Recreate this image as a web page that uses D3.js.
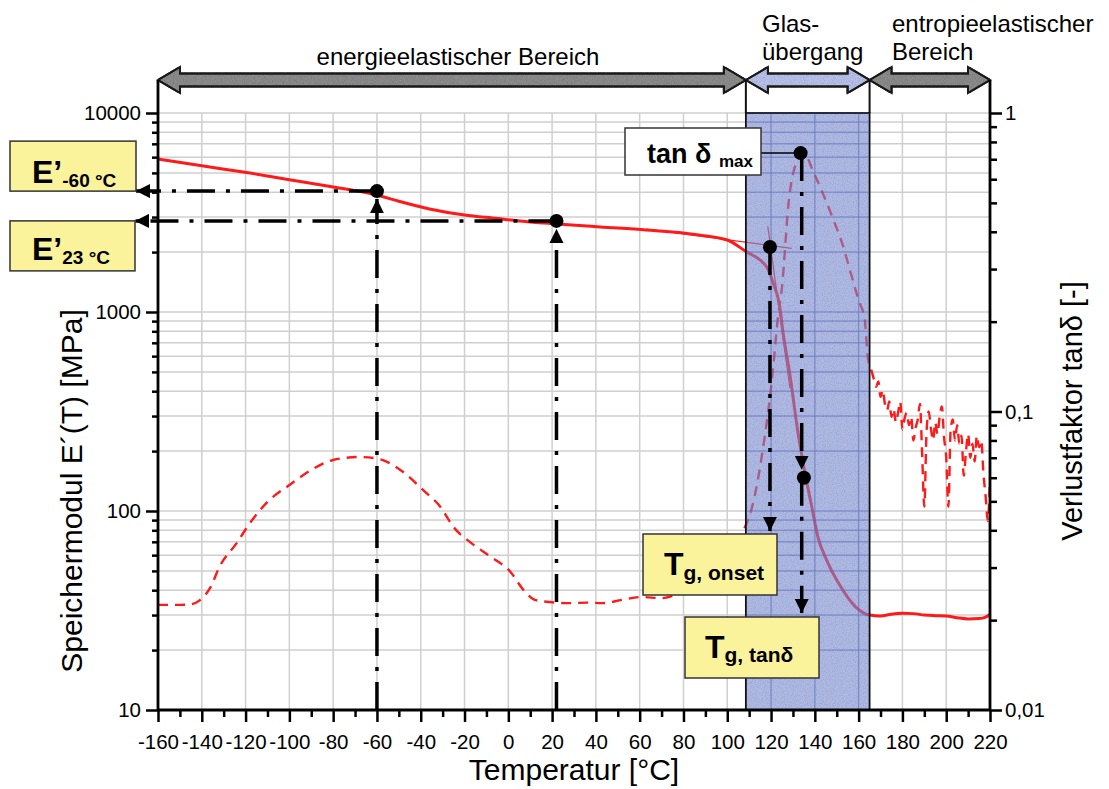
<!DOCTYPE html>
<html>
<head>
<meta charset="utf-8">
<script src="https://cdn.jsdelivr.net/npm/d3@7"></script>
<style>
  body { margin: 0; background: #fff; }
  text { font-family: "Liberation Sans", Arial, sans-serif; }
</style>
</head>
<body>
<svg id="chart" width="1109" height="789"></svg>
<script>
// DMA curve: storage modulus E' and loss factor tan delta over temperature

const width = 1109;
const height = 789;
const margin = {left: 158, right: 119, top: 113, bottom: 79};

// storage modulus E'(T) [MPa], left axis
const tempE = [-160, -140, -118, -100, -80, -69, -60, -50, -36, -20, -5, 4, 22, 42, 63, 87, 100, 109, 115, 118,
  121, 124, 125.5, 128.5, 132.3, 135.5, 138.6, 141.4, 145.3, 151.9, 158.6, 165, 170, 175, 180, 185, 190, 195,
  200, 205, 210, 215, 218, 220];
const modulusE = [5875, 5430, 4990, 4620, 4250, 4055, 3870, 3600, 3295, 3072, 2950, 2875, 2770, 2675, 2585, 2440, 2300, 2000, 1825, 1683,
  1400, 1060, 784, 494, 247, 155, 105, 74, 57, 41.5, 33, 30, 29.7, 30.3, 30.6, 30.5, 30, 29.8,
  29.7, 29.1, 28.7, 28.8, 29.3, 30.3];

// loss factor tan delta [-], right axis
const tempTan = [-160, -150, -145, -141, -136, -132, -124, -118, -110, -100, -90, -80, -68, -59, -48, -39, -31, -25, -17, -8,
  1, 7, 12, 19, 28, 36, 43, 52, 61, 70, 78, 90, 100, 104, 107, 111, 116, 121, 123, 125,
  128, 132, 134, 136, 139, 143, 148, 153, 156, 160, 162.8, 164.2, 166,
  167, 168, 169, 170, 171, 172, 173, 174, 175, 176, 177, 178, 179, 180, 181, 182, 183, 184, 185, 186,
  187, 188, 189, 190, 191, 192, 193, 194, 195, 196, 197, 198, 199, 200, 201, 202, 203, 204, 205, 206,
  207, 208, 209, 210, 211, 212, 213, 214, 215, 216, 217, 218, 219, 220];
const tanDelta = [0.0225, 0.0225, 0.0226, 0.0233, 0.0258, 0.0301, 0.0363, 0.0423, 0.0498, 0.0567, 0.0637, 0.0688, 0.0704, 0.0693, 0.0627, 0.0546, 0.0479, 0.0410, 0.0363, 0.0326,
  0.0290, 0.0252, 0.0234, 0.0230, 0.0228, 0.0229, 0.0228, 0.0234, 0.0239, 0.0237, 0.0245, 0.0255, 0.0290, 0.0340, 0.0392, 0.0468, 0.0726, 0.141, 0.2025, 0.261,
  0.499, 0.696, 0.734, 0.72, 0.644, 0.552, 0.448, 0.356, 0.298, 0.236, 0.203, 0.152, 0.136,
  0.128, 0.121, 0.126, 0.112, 0.118, 0.106, 0.101, 0.108, 0.096, 0.102, 0.092, 0.099, 0.108, 0.087, 0.095, 0.099, 0.090, 0.096, 0.080, 0.088,
  0.094, 0.106, 0.072, 0.048, 0.085, 0.100, 0.088, 0.080, 0.092, 0.084, 0.096, 0.104, 0.082, 0.070, 0.048, 0.086, 0.094, 0.080, 0.090, 0.078,
  0.083, 0.061, 0.073, 0.084, 0.070, 0.078, 0.068, 0.083, 0.076, 0.080, 0.062, 0.052, 0.043, 0.060];

// tangents used for the onset construction
const tangent1T = [63, 129.4];
const tangent1E = [2612, 2090];
const tangent2T = [118.5, 128.6];
const tangent2E = [2704, 415];

// characteristic points
const pE60 = {t: -60, e: 4050};
const pE23 = {t: 22, e: 2870};
const pOnset = {t: 119.5, e: 2123};
const pTanMax = {t: 133.5, tan: 0.734};
const pTgTan = {t: 135, e: 147};

// regions (temperature limits)
const regions = [
  {from: -160, to: 108.5, fill: "#8c8c8c"},
  {from: 108.5, to: 165, fill: "#b8c2ea"},
  {from: 165, to: 220, fill: "#8c8c8c"}
];

const xTicks = d3.range(-160, 221, 20);
const xMinor = d3.range(-150, 220, 20);
const yLTicks = [10, 100, 1000, 10000];
const yRTicks = [0.01, 0.1, 1];
const yRLabels = ["0,01", "0,1", "1"];

const svg = d3.select("#chart");

const x = d3.scaleLinear().domain([-160, 220]).range([margin.left, width - margin.right]);
const yL = d3.scaleLog().domain([10, 10000]).range([height - margin.bottom, margin.top]);
const yR = d3.scaleLog().domain([0.01, 1]).range([height - margin.bottom, margin.top]);

const x0 = margin.left, x1 = width - margin.right;
const y0 = height - margin.bottom, y1 = margin.top;
const arrowY = y1 - 33;

// minor log values
const minorL = [];
[10, 100, 1000].forEach(k => d3.range(2, 10).forEach(m => minorL.push(m * k)));
const minorR = [];
[0.01, 0.1].forEach(k => d3.range(2, 10).forEach(m => minorR.push(+(m * k).toFixed(3))));

// speckle texture for the band and the arrows
const defs = svg.append("defs");
const noise = defs.append("filter").attr("id", "noise").attr("x", 0).attr("y", 0).attr("width", 1).attr("height", 1);
noise.append("feTurbulence").attr("type", "fractalNoise").attr("baseFrequency", 0.9).attr("numOctaves", 2).attr("result", "n");
noise.append("feColorMatrix").attr("in", "n").attr("type", "matrix")
  .attr("values", "0 0 0 0 0  0 0 0 0 0  0 0 0 0 0  0 0 0 -0.7 0.42").attr("result", "a");
noise.append("feComposite").attr("in", "a").attr("in2", "SourceGraphic").attr("operator", "in").attr("result", "s");
const merge = noise.append("feMerge");
merge.append("feMergeNode").attr("in", "SourceGraphic");
merge.append("feMergeNode").attr("in", "s");

/* grid */
const grid = svg.append("g").attr("stroke", "#cfcfcf").attr("stroke-width", 1.5);
grid.selectAll(".gh").data(minorL.concat(yLTicks)).join("line")
  .attr("x1", x0).attr("x2", x1)
  .attr("y1", d => yL(d)).attr("y2", d => yL(d));
grid.selectAll(".gv").data(xTicks.slice(1, -1)).join("line")
  .attr("x1", d => x(d)).attr("x2", d => x(d))
  .attr("y1", y0).attr("y2", y1);

/* curves */
const lineE = d3.line().x(d => x(d.t)).y(d => yL(d.v)).curve(d3.curveMonotoneX);
const lineT = d3.line().x(d => x(d.t)).y(d => yR(d.v)).curve(d3.curveMonotoneX);
const eData = tempE.map((t, i) => ({t: t, v: modulusE[i]}));
const tData = tempTan.map((t, i) => ({t: t, v: tanDelta[i]}));

svg.append("path").datum(tData)
  .attr("d", lineT).attr("fill", "none")
  .attr("stroke", "#ff1a1a").attr("stroke-width", 2.4)
  .attr("stroke-dasharray", "10,7");

svg.append("path").datum(eData)
  .attr("d", lineE).attr("fill", "none")
  .attr("stroke", "#ff1a1a").attr("stroke-width", 3);

[[tangent1T, tangent1E], [tangent2T, tangent2E]].forEach(tg => {
  svg.append("line")
    .attr("x1", x(tg[0][0])).attr("y1", yL(tg[1][0]))
    .attr("x2", x(tg[0][1])).attr("y2", yL(tg[1][1]))
    .attr("stroke", "#ff1a1a").attr("stroke-width", 1.2);
});

/* glass transition band */
const band = regions[1];
svg.append("rect")
  .attr("x", x(band.from)).attr("y", y1)
  .attr("width", x(band.to) - x(band.from)).attr("height", y0 - y1)
  .attr("fill", "#7a8cd4").attr("fill-opacity", 0.6)
  .attr("filter", "url(#noise)");
svg.append("rect")
  .attr("x", x(band.from)).attr("y", y1)
  .attr("width", x(band.to) - x(band.from)).attr("height", y0 - y1)
  .attr("fill", "none")
  .attr("stroke", "#111").attr("stroke-width", 1.8);

const bandGrid = svg.append("g").attr("stroke", "#3f55c0").attr("stroke-opacity", 0.35).attr("stroke-width", 1);
bandGrid.selectAll("line.h").data(minorL.concat(yLTicks)).join("line").attr("class", "h")
  .attr("x1", x(band.from)).attr("x2", x(band.to))
  .attr("y1", d => yL(d)).attr("y2", d => yL(d));
bandGrid.selectAll("line.v").data(xTicks.filter(d => d > band.from && d < band.to)).join("line").attr("class", "v")
  .attr("x1", d => x(d)).attr("x2", d => x(d))
  .attr("y1", y0).attr("y2", y1);

/* region arrows on top */
function dblArrow(a, b, cy) {
  const hl = 22, hh = 13, sh = 6.5;
  return `M${a},${cy} L${a + hl},${cy - hh} L${a + hl},${cy - sh} L${b - hl},${cy - sh} L${b - hl},${cy - hh} L${b},${cy}` +
    ` L${b - hl},${cy + hh} L${b - hl},${cy + sh} L${a + hl},${cy + sh} L${a + hl},${cy + hh} Z`;
}
svg.selectAll(".region").data(regions).join("path")
  .attr("d", d => dblArrow(x(d.from), x(d.to), arrowY))
  .attr("fill", d => d.fill).attr("filter", "url(#noise)")
  .attr("stroke", "#1a1a1a").attr("stroke-width", 2)
  .attr("stroke-linejoin", "miter");
svg.selectAll(".regionEdge").data(regions).join("path")
  .attr("d", d => dblArrow(x(d.from), x(d.to), arrowY))
  .attr("fill", "none").attr("stroke", "#1a1a1a").attr("stroke-width", 2);

// vertical connectors from the plot to the arrows
svg.selectAll(".conn").data([band.from, band.to]).join("line")
  .attr("x1", d => x(d)).attr("x2", d => x(d))
  .attr("y1", arrowY).attr("y2", y1)
  .attr("stroke", "#111").attr("stroke-width", 2);

svg.append("text").attr("x", 458).attr("y", 65).attr("text-anchor", "middle")
  .attr("font-size", 24).text("energieelastischer Bereich");
svg.append("text").attr("x", 762).attr("y", 32).attr("font-size", 24).text("Glas-");
svg.append("text").attr("x", 762).attr("y", 60).attr("font-size", 24).text("übergang");
svg.append("text").attr("x", 892).attr("y", 32).attr("font-size", 24).text("entropieelastischer");
svg.append("text").attr("x", 892).attr("y", 60).attr("font-size", 24).text("Bereich");

/* construction lines */
defs.append("marker").attr("id", "arr")
  .attr("viewBox", "0 0 10 10").attr("refX", 10).attr("refY", 5)
  .attr("markerWidth", 4).attr("markerHeight", 4.2).attr("orient", "auto")
  .append("path").attr("d", "M0,0 L10,5 L0,10 z").attr("fill", "#000");

const dashDot = "28,11,4,11";
function guide(xa, ya, xb, yb, arrow) {
  svg.append("line")
    .attr("x1", xa).attr("y1", ya).attr("x2", xb).attr("y2", yb)
    .attr("stroke", "#000").attr("stroke-width", 3.5)
    .attr("stroke-dasharray", dashDot)
    .attr("marker-end", arrow ? "url(#arr)" : null);
}

// annotation boxes (layout)
const boxE60 = {x: 10, w: 126, h: 50};
const boxE23 = {x: 10, w: 125, h: 50};
const boxTan = {x: 625, y: 128, w: 136, h: 47};
const boxOnset = {x: 643, y: 534, w: 134, h: 61};
const boxTgTan = {x: 685, y: 617, w: 134, h: 61};

guide(x(pE60.t), yL(pE60.e), boxE60.x + boxE60.w, yL(pE60.e), true);
guide(x(pE23.t), yL(pE23.e), boxE23.x + boxE23.w, yL(pE23.e), true);
guide(x(pE60.t), y0, x(pE60.t), yL(pE60.e) + 8, true);
guide(x(pE23.t), y0, x(pE23.t), yL(pE23.e) + 8, true);
guide(x(pOnset.t), yL(pOnset.e), x(pOnset.t), boxOnset.y - 3, true);
guide(x(134), yR(pTanMax.tan), x(134), yL(pTgTan.e) - 8, true);
guide(x(134), yL(pTgTan.e), x(134), boxTgTan.y - 4, true);

svg.append("line")
  .attr("x1", boxTan.x + boxTan.w).attr("x2", x(pTanMax.t))
  .attr("y1", yR(pTanMax.tan)).attr("y2", yR(pTanMax.tan))
  .attr("stroke", "#000").attr("stroke-width", 1.5);

const dots = [
  [x(pE60.t), yL(pE60.e)], [x(pE23.t), yL(pE23.e)], [x(pOnset.t), yL(pOnset.e)],
  [x(pTanMax.t), yR(pTanMax.tan)], [x(pTgTan.t), yL(pTgTan.e)]
];
svg.selectAll(".dot").data(dots).join("circle")
  .attr("cx", d => d[0]).attr("cy", d => d[1]).attr("r", 7).attr("fill", "#000");

/* boxes */
function box(b, fill) {
  svg.append("rect").attr("x", b.x).attr("y", b.y).attr("width", b.w).attr("height", b.h)
    .attr("fill", fill).attr("stroke", "#333").attr("stroke-width", 1.5);
}
boxE60.y = yL(pE60.e) - boxE60.h;
boxE23.y = yL(pE23.e);
box(boxE60, "#fbf39c");
box(boxE23, "#fbf39c");
box(boxTan, "#fff");
box(boxOnset, "#fbf39c");
box(boxTgTan, "#fbf39c");

function label(px, py, main, sub, big, small, dy) {
  const t = svg.append("text").attr("x", px).attr("y", py).attr("font-weight", "bold")
    .attr("font-size", big);
  t.append("tspan").text(main);
  t.append("tspan").attr("font-size", small).attr("dy", dy).text(sub);
}
label(32, boxE60.y + 42, "E’", "-60 °C", 32, 19, 4);
label(32, boxE23.y + 39, "E’", "23 °C", 32, 19, 4);
label(647, 163, "tan δ ", "max", 27, 17, 4);
label(664, 575, "T", "g, onset", 32, 21, 5);
label(705, 658, "T", "g, tanδ", 32, 21, 4);

/* axes */
function styleAxis(g) {
  g.select(".domain").remove();
  g.selectAll(".tick line").attr("stroke", "#000").attr("stroke-width", 2.5);
  g.selectAll(".tick text").attr("fill", "#000");
  g.attr("font-size", 20.5).attr("font-family", "Liberation Sans, Arial, sans-serif");
}

svg.append("g").attr("transform", `translate(${x0},0)`)
  .call(d3.axisLeft(yL).tickValues(yLTicks).tickFormat(d => String(d)).tickSize(12).tickPadding(5))
  .call(styleAxis);
svg.append("g").attr("transform", `translate(${x0},0)`)
  .call(d3.axisLeft(yL).tickValues(minorL).tickFormat("").tickSize(6))
  .call(styleAxis);

svg.append("g").attr("transform", `translate(${x1},0)`)
  .call(d3.axisRight(yR).tickValues(yRTicks).tickFormat((d, i) => yRLabels[i]).tickSize(12).tickPadding(3))
  .call(styleAxis);
svg.append("g").attr("transform", `translate(${x1},0)`)
  .call(d3.axisRight(yR).tickValues(minorR).tickFormat("").tickSize(7))
  .call(styleAxis);

svg.append("g").attr("transform", `translate(0,${y0})`)
  .call(d3.axisBottom(x).tickValues(xTicks).tickFormat(d => String(d)).tickSize(12).tickPadding(12))
  .call(styleAxis);
svg.append("g").attr("transform", `translate(0,${y0})`)
  .call(d3.axisBottom(x).tickValues(xMinor).tickFormat("").tickSize(7))
  .call(styleAxis);

// axis lines
svg.append("g").attr("stroke", "#000").attr("stroke-width", 2.8)
  .selectAll("line").data([[x0, arrowY, x0, y0], [x1, arrowY, x1, y0], [x0 - 1, y0, x1 + 1, y0]]).join("line")
  .attr("x1", d => d[0]).attr("y1", d => d[1]).attr("x2", d => d[2]).attr("y2", d => d[3]);

/* axis titles */
svg.append("text").attr("x", (x0 + x1) / 2).attr("y", 780).attr("text-anchor", "middle")
  .attr("font-size", 30).text("Temperatur [°C]");
svg.append("text").attr("transform", "translate(82,491) rotate(-90)").attr("text-anchor", "middle")
  .attr("font-size", 30).text("Speichermodul E´(T) [MPa]");
svg.append("text").attr("transform", "translate(1082,411) rotate(-90)").attr("text-anchor", "middle")
  .attr("font-size", 29).text("Verlustfaktor tanδ [-]");
</script>
</body>
</html>
